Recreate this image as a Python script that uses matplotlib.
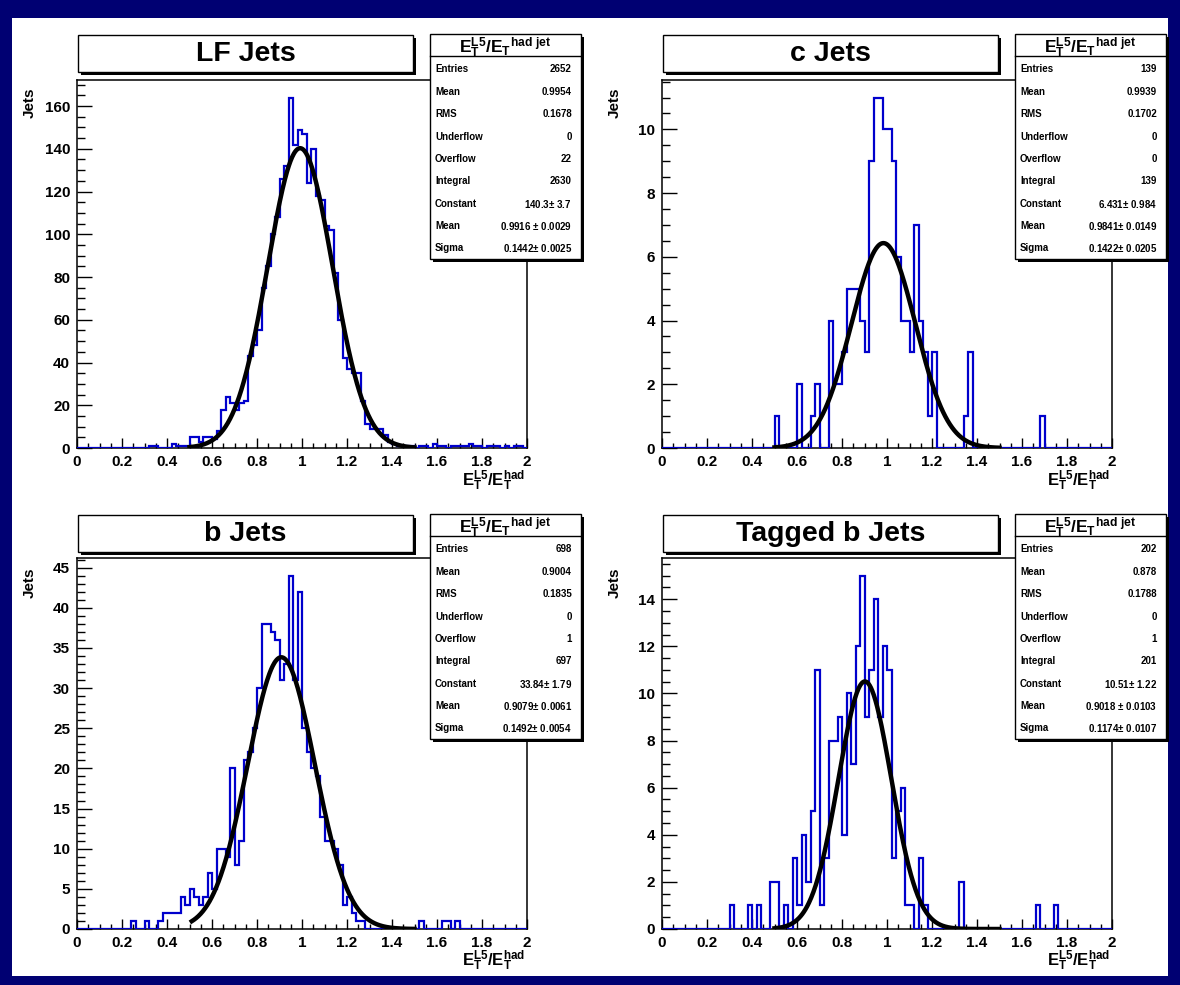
import numpy as np
import matplotlib
matplotlib.use("Agg")
import matplotlib.pyplot as plt
from matplotlib.patches import Rectangle
from matplotlib.ticker import MultipleLocator, FuncFormatter

plt.rcParams["font.family"] = ["Liberation Sans", "DejaVu Sans"]
plt.rcParams["font.weight"] = "bold"
plt.rcParams["mathtext.fontset"] = "custom"
plt.rcParams["mathtext.rm"] = "Liberation Sans"
plt.rcParams["mathtext.bf"] = "Liberation Sans:bold"
plt.rcParams["mathtext.it"] = "Liberation Sans:italic"

W, H = 1180, 985
NAVY = "#000072"
HIST_BLUE = "#0000cc"

# 100 bins of E_T(L5)/E_T(had) between 0 and 2
edges = np.linspace(0.0, 2.0, 101)

lf_counts = [
    0, 0, 0, 0, 0, 0, 0, 0, 0, 0, 0, 0, 0, 0, 0, 0, 1, 1, 0, 0,
    0, 2, 1, 1, 1, 5, 5, 3, 5, 5, 4, 8, 18, 24, 21, 18, 21, 22, 43, 48,
    55, 75, 85, 100, 108, 126, 132, 164, 142, 149, 147, 124, 140, 118, 116, 104, 102, 82, 60, 42,
    37, 35, 35, 22, 11, 9, 9, 9, 6, 3, 2, 1, 1, 1, 1, 0, 1, 1, 0, 2,
    1, 1, 0, 1, 1, 1, 1, 2, 1, 1, 0, 1, 1, 1, 0, 1, 0, 1, 1, 0,
]
c_counts = [
    0, 0, 0, 0, 0, 0, 0, 0, 0, 0, 0, 0, 0, 0, 0, 0, 0, 0, 0, 0,
    0, 0, 0, 0, 0, 1, 0, 0, 0, 0, 2, 0, 0, 1, 2, 0, 0, 4, 2, 2,
    3, 5, 5, 5, 4, 3, 9, 11, 11, 10, 10, 9, 6, 4, 4, 3, 7, 4, 3, 1,
    3, 0, 0, 0, 0, 0, 0, 1, 3, 0, 0, 0, 0, 0, 0, 0, 0, 0, 0, 0,
    0, 0, 0, 0, 1, 0, 0, 0, 0, 0, 0, 0, 0, 0, 0, 0, 0, 0, 0, 0,
]
b_counts = [
    0, 0, 0, 0, 0, 0, 0, 0, 0, 0, 0, 0, 1, 0, 0, 1, 0, 0, 1, 2,
    2, 2, 2, 4, 3, 5, 4, 3, 4, 7, 5, 10, 10, 9, 20, 8, 11, 21, 22, 25,
    30, 38, 38, 37, 36, 31, 33, 44, 31, 42, 25, 22, 20, 19, 14, 11, 11, 10, 8, 3,
    4, 2, 1, 1, 0, 0, 0, 0, 0, 0, 0, 0, 0, 0, 0, 0, 1, 0, 0, 0,
    0, 1, 1, 0, 1, 0, 0, 0, 0, 0, 0, 0, 0, 0, 0, 0, 0, 0, 0, 0,
]
tagb_counts = [
    0, 0, 0, 0, 0, 0, 0, 0, 0, 0, 0, 0, 0, 0, 0, 1, 0, 0, 0, 1,
    0, 1, 0, 0, 2, 2, 0, 1, 0, 3, 1, 4, 2, 5, 11, 1, 3, 8, 8, 9,
    4, 10, 7, 12, 15, 9, 11, 14, 9, 12, 11, 3, 5, 6, 1, 1, 0, 3, 1, 0,
    0, 0, 0, 0, 0, 0, 2, 0, 0, 0, 0, 0, 0, 0, 0, 0, 0, 0, 0, 0,
    0, 0, 0, 1, 0, 0, 0, 1, 0, 0, 0, 0, 0, 0, 0, 0, 0, 0, 0, 0,
]

# gaussian fit results: constant, mean, sigma
lf_fit = (140.3, 0.9916, 0.1442)
c_fit = (6.431, 0.9841, 0.1422)
b_fit = (33.84, 0.9079, 0.1492)
tagb_fit = (10.51, 0.9018, 0.1174)
fit_ranges = [(0.5, 1.5), (0.5, 1.5), (0.51, 1.5), (0.5, 1.5)]

titles = ["LF Jets", "c Jets", "b Jets", "Tagged b Jets"]
stat_names = ["Entries", "Mean", "RMS", "Underflow", "Overflow", "Integral",
              "Constant", "Mean", "Sigma"]
lf_stats = ["2652", "0.9954", "0.1678", "0", "22", "2630",
            "140.3$\\pm$ 3.7", "0.9916 $\\pm$ 0.0029", "0.1442$\\pm$ 0.0025"]
c_stats = ["139", "0.9939", "0.1702", "0", "0", "139",
           "6.431$\\pm$ 0.984", "0.9841$\\pm$ 0.0149", "0.1422$\\pm$ 0.0205"]
b_stats = ["698", "0.9004", "0.1835", "0", "1", "697",
           "33.84$\\pm$ 1.79", "0.9079$\\pm$ 0.0061", "0.1492$\\pm$ 0.0054"]
tagb_stats = ["202", "0.878", "0.1788", "0", "1", "201",
              "10.51$\\pm$ 1.22", "0.9018 $\\pm$ 0.0103", "0.1174$\\pm$ 0.0107"]

y_major = [20, 2, 5, 2]
y_minor = [5, 0.5, 1, 0.5]

fig = plt.figure(figsize=(W / 100, H / 100), dpi=100, facecolor=NAVY)
fig.add_artist(Rectangle((12 / W, 1 - 976 / H), 1156 / W, 958 / H,
                         transform=fig.transFigure, facecolor="white",
                         edgecolor="none", zorder=-5))

# overlay in pixel coordinates for the title and statistics boxes
ov = fig.add_axes([0, 0, 1, 1], zorder=10)
ov.set_xlim(0, W)
ov.set_ylim(H, 0)
ov.axis("off")


def shadow_box(x0, y0, x1, y1):
    ov.add_patch(Rectangle((x0 + 3, y0 + 3), x1 - x0, y1 - y0,
                           facecolor="black", edgecolor="none"))
    ov.add_patch(Rectangle((x0, y0), x1 - x0, y1 - y0,
                           facecolor="white", edgecolor="black", lw=1.0))


def draw_panel(k, counts, fit, stats):
    col, row = k % 2, k // 2
    dx, dy = 585 * col, 480 * row
    top, bottom = (80, 448) if row == 0 else (558, 929)
    left, right = 77 + dx, 527 + dx
    ax = fig.add_axes([left / W, 1 - bottom / H, (right - left) / W, (bottom - top) / H])

    ax.stairs(counts, edges, baseline=0, color=HIST_BLUE, lw=1.6, zorder=3)
    const, mean, sigma = fit
    xs = np.linspace(fit_ranges[k][0], fit_ranges[k][1], 400)
    ax.plot(xs, const * np.exp(-0.5 * ((xs - mean) / sigma) ** 2),
            color="black", lw=3.2, zorder=4)

    ax.set_xlim(0, 2)
    ax.set_ylim(0, 1.05 * max(counts))
    ax.xaxis.set_major_locator(MultipleLocator(0.2))
    ax.xaxis.set_minor_locator(MultipleLocator(0.05))
    ax.yaxis.set_major_locator(MultipleLocator(y_major[k]))
    ax.yaxis.set_minor_locator(MultipleLocator(y_minor[k]))
    ax.xaxis.set_major_formatter(FuncFormatter(lambda v, p: f"{v:g}"))
    ax.yaxis.set_major_formatter(FuncFormatter(lambda v, p: f"{v:g}"))
    ax.tick_params(which="both", direction="in", top=False, right=False,
                   labelsize=11, width=1.0, pad=5)
    ax.tick_params(axis="x", which="major", length=7)
    ax.tick_params(axis="x", which="minor", length=3.5)
    ax.tick_params(axis="y", which="major", length=10.5)
    ax.tick_params(axis="y", which="minor", length=5.5)
    for s in ax.spines.values():
        s.set_linewidth(1.1)

    # axis titles
    ov.text(30 + dx, 88 + dy, "Jets", rotation=90, ha="center", va="top", fontsize=11)
    ov.text(right - 2, 469 + dy, r"$\mathbf{E_{T}^{L5}/E_{T}^{had}}$",
            ha="right", va="top", fontsize=12)

    # histogram title
    shadow_box(78 + dx, 35 + dy, 413 + dx, 72 + dy)
    ov.text(245.5 + dx, 54 + dy, titles[k], ha="center", va="center", fontsize=20.5)

    # statistics box
    bx0, by0, bx1, by1 = 430 + dx, 34 + dy, 581 + dx, 259 + dy
    shadow_box(bx0, by0, bx1, by1)
    ov.plot([bx0, bx1], [56 + dy, 56 + dy], color="black", lw=1.0)
    ov.text((bx0 + bx1) / 2, 53 + dy,
            r"$\mathbf{E_{T}^{L5}/E_{T}}^{\mathrm{had\ jet}}$",
            ha="center", va="baseline", fontsize=12.5)
    for j, (name, val) in enumerate(zip(stat_names, stats)):
        yy = 69.5 + 22.35 * j + dy
        ov.text(bx0 + 5, yy, name, ha="left", va="center", fontsize=7)
        ov.text(bx1 - 9, yy, val, ha="right", va="center", fontsize=7)


draw_panel(0, lf_counts, lf_fit, lf_stats)
draw_panel(1, c_counts, c_fit, c_stats)
draw_panel(2, b_counts, b_fit, b_stats)
draw_panel(3, tagb_counts, tagb_fit, tagb_stats)

fig.savefig("out.png", dpi=100, facecolor=NAVY)
